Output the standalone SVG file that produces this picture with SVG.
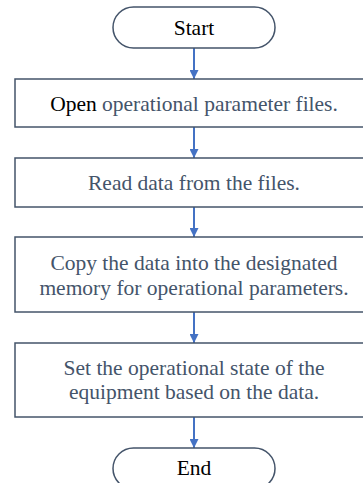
<svg xmlns="http://www.w3.org/2000/svg" width="363" height="483" viewBox="0 0 363 483">
<style>
.box{fill:#ffffff;stroke:#44546a;stroke-width:1.5}
.t{font-family:"Liberation Serif","Times New Roman",serif;font-size:21.5px;fill:#44546a;text-anchor:middle}
.k{fill:#000000}
.c{stroke:#4472c4;stroke-width:2;fill:none}
</style>
<defs>
<marker id="ah" viewBox="0 0 10 10" refX="10" refY="5" markerWidth="4.5" markerHeight="4.5" orient="auto" markerUnits="strokeWidth">
<path d="M0,0 L10,5 L0,10 z" fill="#4472c4"/>
</marker>
</defs>
<rect width="363" height="483" fill="#ffffff"/>
<g id="connectors">
<line class="c" x1="194" y1="48" x2="194" y2="79" marker-end="url(#ah)"/>
<line class="c" x1="194" y1="127" x2="194" y2="158" marker-end="url(#ah)"/>
<line class="c" x1="194" y1="207" x2="194" y2="237" marker-end="url(#ah)"/>
<line class="c" x1="194" y1="312" x2="194" y2="343" marker-end="url(#ah)"/>
<line class="c" x1="194" y1="417" x2="194" y2="448" marker-end="url(#ah)"/>
</g>
<g id="start">
<rect class="box" x="113" y="7" width="162" height="41" rx="20.5"/>
<text class="t k" x="194" y="35">Start</text>
</g>
<g id="step1">
<rect class="box" x="15" y="79" width="358" height="48"/>
<text class="t" x="194" y="111"><tspan class="k">Open</tspan> operational parameter files.</text>
</g>
<g id="step2">
<rect class="box" x="15" y="158" width="358" height="49"/>
<text class="t" x="194" y="190">Read data from the files.</text>
</g>
<g id="step3">
<rect class="box" x="15" y="237" width="358" height="75"/>
<text class="t" x="194" y="270">Copy the data into the designated</text>
<text class="t" x="194" y="295">memory for operational parameters.</text>
</g>
<g id="step4">
<rect class="box" x="15" y="343" width="358" height="74"/>
<text class="t" x="194" y="375">Set the operational state of the</text>
<text class="t" x="194" y="399">equipment based on the data.</text>
</g>
<g id="end">
<rect class="box" x="113" y="448" width="162" height="41" rx="20.5"/>
<text class="t k" x="194" y="475">End</text>
</g>
</svg>
